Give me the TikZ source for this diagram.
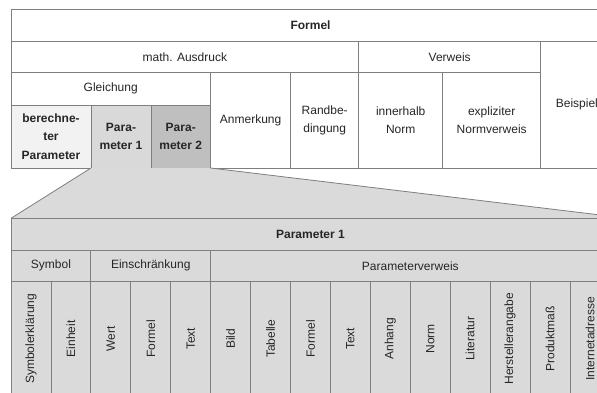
\documentclass[tikz,border=0pt]{standalone}
\usepackage{fontspec}
\usepackage{graphicx}
\setmainfont{Liberation Sans}
\definecolor{rule}{HTML}{7F7F7F}
\definecolor{ink}{HTML}{262626}
\definecolor{shadeA}{HTML}{F2F2F2}
\definecolor{shadeB}{HTML}{D9D9D9}
\definecolor{shadeC}{HTML}{BFBFBF}
\definecolor{zoomfill}{HTML}{DADADA}

% cell{name}{x1}{y1}{x2}{y2}{extra style}{text}
\newcommand{\cell}[7]{%
  \node[cellbox,#6,minimum width={(#4)-(#2)},minimum height={(#5)-(#3)}]
    (#1) at ({((#2)+(#4))/2},{((#3)+(#5))/2}) {#7};}
\newcommand{\vtext}[1]{\rotatebox{90}{#1}}

\begin{document}
\begin{tikzpicture}[x=1pt,y=-1pt,
  cellbox/.style={draw=rule,line width=0.8pt,inner sep=0pt,outer sep=0pt,
    align=center,text=ink,font={\fontsize{12}{18.5}\selectfont}},
  strong/.style={font={\fontsize{12}{18.5}\selectfont\bfseries}},
  slant/.style={draw=rule,line width=0.8pt}]
\useasboundingbox (0,0) rectangle (597,392);
\fill[white] (0,0) rectangle (597,392);
\clip (0,0) rectangle (597,392);

% ---- upper table: Formel ----
\cell{formel}{11}{9}{610}{41.7}{strong}{Formel}
\cell{ausdruck}{11}{41.7}{358.7}{72.7}{}{math. Ausdruck}
\cell{verweis}{358.7}{41.7}{540.7}{72.7}{}{Verweis}
\cell{beispiel}{540.7}{41.7}{613}{168}{}{Beispiel}
\cell{gleichung}{11}{72.7}{210.5}{105}{}{Gleichung}
\cell{berP}{11}{105}{91}{168}{strong,fill=shadeA}{berechne-\\ter\\Parameter}
\cell{par1}{91}{105}{151}{168}{strong,fill=shadeB}{Para-\\meter 1}
\cell{par2}{151}{105}{210.5}{168}{strong,fill=shadeC}{Para-\\meter 2}
\cell{anm}{210.5}{72.7}{290.7}{168}{}{Anmerkung}
\cell{rand}{290.7}{72.7}{358.7}{168}{}{Randbe-\\dingung}
\cell{innerh}{358.7}{72.7}{442.7}{168}{}{innerhalb\\Norm}
\cell{explizit}{442.7}{72.7}{540.7}{168}{}{expliziter\\Normverweis}

% ---- zoom wedge from Parameter 1 ----
\coordinate (wedgeTL) at (11,218.3);
\coordinate (wedgeTR) at (628,218.3);
\fill[zoomfill] (par1.south west) -- (wedgeTL) -- (wedgeTR) -- (par2.south east) -- cycle;
\draw[slant] (par1.south west) -- (wedgeTL);
\draw[slant] (par2.south east) -- (wedgeTR);

% ---- lower table: Parameter 1 ----
\tikzset{lower/.style={fill=zoomfill}}
\cell{ptitle}{11}{218.3}{610}{250}{lower,strong}{Parameter 1}
\cell{symbol}{11}{250}{90.86}{281.7}{lower}{Symbol}
\cell{einschr}{90.86}{250}{210.65}{281.7}{lower}{Einschränkung}
\cell{pverweis}{210.65}{250}{610}{281.7}{lower}{Parameterverweis}
\foreach \name/\lab [count=\k from 0] in {
  c1/Symbolerklärung, c2/Einheit, c3/Wert, c4/Formel, c5/Text,
  c6/Bild, c7/Tabelle, c8/Formel, c9/Text, c10/Anhang, c11/Norm,
  c12/Literatur, c13/Herstellerangabe, c14/Produktmaß, c15/Internetadresse}{
  \pgfmathsetmacro{\xa}{11+39.93*\k}
  \pgfmathsetmacro{\xb}{11+39.93*(\k+1)}
  \cell{\name}{\xa}{281.7}{\xb}{396}{lower}{\vtext{\lab}}
}
\end{tikzpicture}
\end{document}
